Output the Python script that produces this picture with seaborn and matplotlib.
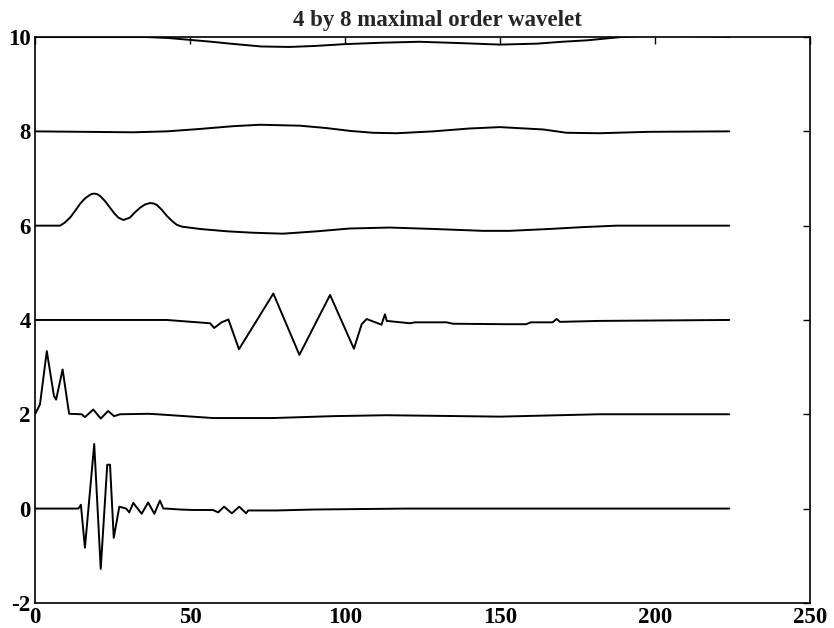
import numpy as np
import pandas as pd
import matplotlib
matplotlib.use("Agg")
import matplotlib.pyplot as plt
import seaborn as sns

# ---- data (x, value relative to offset) ----
offsets = [0, 2, 4, 6, 8, 10]

x0 = [0, 14.0, 14.8, 16.1, 19.1, 21.2, 23.3, 24.2, 25.4, 27.2, 29.4, 30.4, 31.7, 34.4, 36.5,
      38.5, 40.3, 41.4, 42.2, 46.8, 51.1, 57.4, 59.1, 61.0, 63.5, 65.9, 68.1, 68.8, 78, 90,
      120, 160, 224]
y0 = [0, 0, 0.08, -0.83, 1.37, -1.28, 0.93, 0.93, -0.62, 0.04, 0.0, -0.08, 0.12, -0.11, 0.13,
      -0.11, 0.17, 0.0, 0.0, -0.02, -0.03, -0.03, -0.08, 0.04, -0.1, 0.04, -0.1, -0.04, -0.04,
      -0.02, 0.0, 0.0, 0.0]

x2 = [0, 1.6, 3.8, 6.1, 6.8, 8.9, 11.0, 15.1, 16.1, 18.8, 21.2, 23.6, 25.5, 27.4, 36.5, 39.4,
      57.5, 76.8, 96, 113.4, 150, 182, 224]
y2 = [0, 0.21, 1.34, 0.39, 0.31, 0.95, 0.01, 0.0, -0.06, 0.1, -0.09, 0.07, -0.04, 0.0, 0.01, 0.0,
      -0.08, -0.08, -0.04, -0.02, -0.05, 0.0, 0.0]

x4 = [0, 42.5, 56.5, 57.8, 60.2, 62.4, 65.8, 76.9, 85.3, 95.2, 102.9, 105.4, 107.0, 111.8, 112.9,
      113.5, 121, 122.6, 132.8, 134.8, 152, 158.4, 160, 167, 168.3, 169.4, 182.3, 224]
y4 = [0, 0.0, -0.07, -0.17, -0.05, 0.01, -0.62, 0.56, -0.74, 0.53, -0.61, -0.09, 0.02, -0.1, 0.12,
      -0.02, -0.07, -0.05, -0.05, -0.08, -0.09, -0.09, -0.05, -0.05, 0.02, -0.04, -0.02, 0.0]

x6 = [0, 8.1, 9.5, 11.3, 13.0, 14.5, 16.0, 17.2, 18.2, 19.0, 20.0, 21.0, 22.6, 24.2, 25.6, 26.9,
      28.5, 30.6, 32.2, 33.9, 35.5, 37.1, 38.3, 39.3, 41.0, 42.5, 44.2, 45.7, 47.3, 53.2, 62, 70.3,
      80, 90.9, 101.6, 114.5, 128.5, 144.6, 153, 166, 177, 187.6, 224]
y6 = [0, 0.0, 0.06, 0.17, 0.32, 0.46, 0.57, 0.63, 0.67, 0.68, 0.67, 0.63, 0.52, 0.38, 0.26, 0.17,
      0.12, 0.17, 0.28, 0.38, 0.45, 0.48, 0.47, 0.44, 0.33, 0.21, 0.1, 0.02, -0.02, -0.07, -0.12,
      -0.15, -0.17, -0.12, -0.06, -0.04, -0.07, -0.11, -0.11, -0.07, -0.03, 0.0, 0.0]

x8 = [0, 31.7, 42.5, 53, 64, 72.6, 85.5, 94, 101.6, 109, 116.7, 128.5, 140, 150, 164, 171.5, 182,
      198, 224]
y8 = [0, -0.02, 0.0, 0.05, 0.11, 0.14, 0.12, 0.07, 0.01, -0.03, -0.04, 0.0, 0.06, 0.09, 0.04,
      -0.03, -0.04, -0.01, 0.0]

x10 = [0, 36, 43, 50, 57, 63, 73, 82, 90, 100, 112, 124, 138, 150, 162, 170, 178, 189, 199, 221, 224]
y10 = [0, 0, -0.02, -0.06, -0.1, -0.14, -0.2, -0.21, -0.19, -0.15, -0.12, -0.1, -0.13, -0.16,
       -0.14, -0.1, -0.07, 0.0, 0.03, 0.01, 0.0]

xticks = [0, 50, 100, 150, 200, 250]
yticks = [-2, 0, 2, 4, 6, 8, 10]
title = "4 by 8 maximal order wavelet"

# ---- build long-form table ----
frames = []
for off, xs, ys in zip(offsets, [x0, x2, x4, x6, x8, x10], [y0, y2, y4, y6, y8, y10]):
    frames.append(pd.DataFrame({"x": xs, "y": np.asarray(ys) + off, "trace": str(off)}))
df = pd.concat(frames, ignore_index=True)

sns.set_style("white")
plt.rcParams["font.family"] = ["Liberation Serif", "DejaVu Serif"]

fig = plt.figure(figsize=(8.34, 6.28), dpi=100)
ax = fig.add_axes([0.042, 0.040, 0.929, 0.901])

sns.lineplot(data=df, x="x", y="y", hue="trace", units="trace", estimator=None, sort=False,
             palette=["black"] * len(offsets), legend=False, linewidth=1.4, ax=ax)

ax.set_xlim(0, 250)
ax.set_ylim(-2, 10)
ax.set_xticks(xticks)
ax.set_yticks(yticks)
ax.set_xticklabels([str(t) for t in xticks], fontweight="bold")
ax.set_yticklabels([str(t) for t in yticks], fontweight="bold")
ax.set_xlabel("")
ax.set_ylabel("")
ax.tick_params(direction="in", length=5, width=1, top=True, right=True,
               labelsize=16.5, colors="black", pad=3)
for s in ax.spines.values():
    s.set_visible(True)
    s.set_color("black")
    s.set_linewidth(1.2)
ax.set_title(title, fontsize=16.5, fontweight="bold", pad=8, x=0.52)

fig.savefig("out.png", dpi=100, facecolor="white")
